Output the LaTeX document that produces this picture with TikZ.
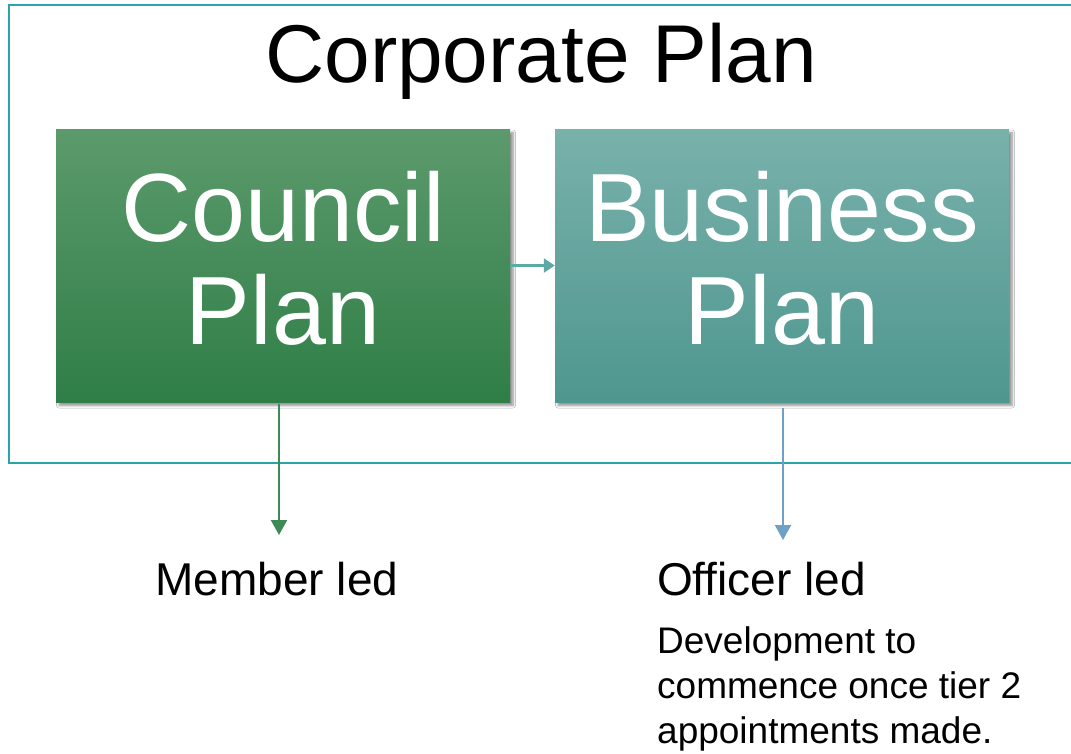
\documentclass[tikz,border=0pt]{standalone}
\usepackage{fontspec}
\setmainfont{Liberation Sans}
\usetikzlibrary{arrows.meta,shadows.blur}
\definecolor{frameteal}{HTML}{2CA3A5}
\definecolor{gtop}{HTML}{5C9A6C}
\definecolor{gbot}{HTML}{2F7E47}
\definecolor{btop}{HTML}{79B1AB}
\definecolor{bbot}{HTML}{4E978F}
\definecolor{linkc}{HTML}{5DA9A6}
\definecolor{greenarr}{HTML}{3D8A56}
\definecolor{bluearr}{HTML}{6FA0C5}
\tikzset{
  frameline/.style={draw=frameteal, line width=2.6pt},
  planbox/.style={rectangle, minimum width=454pt, minimum height=273pt, inner sep=0pt,
    blur shadow={shadow xshift=3pt, shadow yshift=-3.5pt, shadow blur steps=6, shadow opacity=45, shadow blur radius=2.5pt}},
  boxtext/.style={text=white, align=center, font=\fontsize{97}{103}\selectfont, inner sep=0pt},
  linkarrow/.style={draw=linkc, line width=2.2pt, -{Triangle[length=11pt,width=14pt]}},
  greenarrow/.style={draw=greenarr, line width=2.2pt, -{Triangle[length=15pt,width=16pt]}},
  bluearrow/.style={draw=bluearr, line width=2.2pt, -{Triangle[length=15pt,width=16pt]}},
  lbl/.style={text=black, inner sep=0pt, font=\fontsize{46}{52}\selectfont},
  smalltxt/.style={text=black, inner sep=0pt, align=left, font=\fontsize{37}{45}\selectfont}
}
\begin{document}
\begin{tikzpicture}[x=1pt,y=-1pt]
\useasboundingbox (0,0) rectangle (1071,753);
\fill[white] (0,0) rectangle (1071,753);
% Corporate Plan frame (open on the right)
\draw[frameline] (1071,5) -- (9,5) -- (9,463) -- (1071,463);
\node[anchor=base, inner sep=0pt, font=\fontsize{82}{90}\selectfont] (title) at (541,82) {Corporate Plan};
% boxes
\node[planbox, top color=gtop, bottom color=gbot] (council) at (283,265.5) {};
\node[planbox, top color=btop, bottom color=bbot] (business) at (782,265.5) {};
\node[boxtext] (counciltext) at ([yshift=7.5pt]council.center) {Council\\Plan};
\node[boxtext] (businesstext) at ([yshift=7.5pt]business.center) {Business\\Plan};
% connectors
\draw[linkarrow] (council) -- (business);
\coordinate (membertip) at (279,535);
\coordinate (officertip) at (783,540);
\draw[greenarrow] ([yshift=-2pt]council.south -| membertip) -- (membertip);
\draw[bluearrow] ([yshift=-6pt]business.south -| officertip) -- (officertip);
% labels
\node[lbl, anchor=base] (member) at (277,595) {Member led};
\node[lbl, anchor=base west] (officer) at (657,595) {Officer led};
\node[smalltxt, anchor=north west] (devnote) at (657,626) {Development to\\commence once tier 2\\appointments made.};
\end{tikzpicture}
\end{document}
